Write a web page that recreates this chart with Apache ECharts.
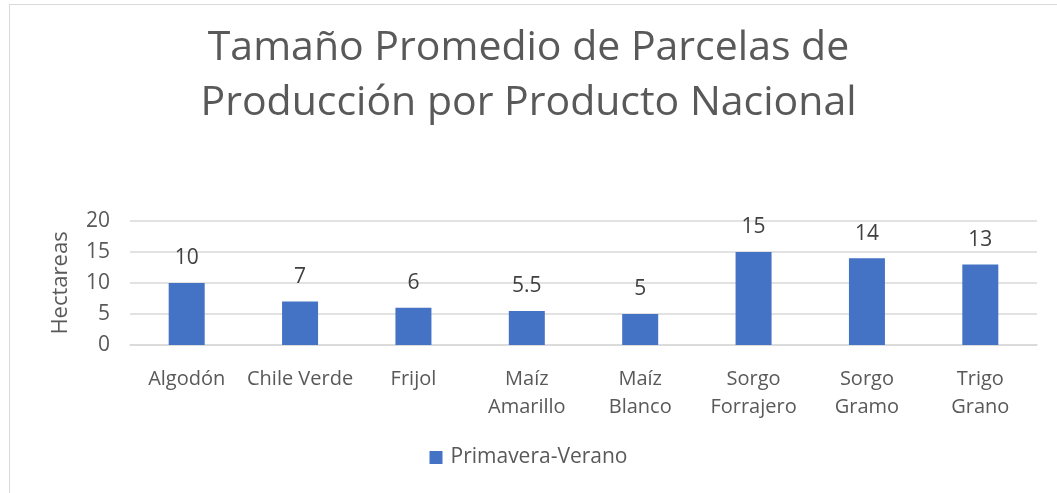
<!DOCTYPE html>
<html>
<head>
<meta charset="utf-8">
<script src="https://cdn.jsdelivr.net/npm/echarts@6/dist/echarts.min.js"></script>
<style>
    html, body { margin: 0; padding: 0; background: #fff; }
    .wrap-div { position: relative; width: 1057px; height: 493px; overflow: hidden; }
    .frame { position: absolute; left: 9px; top: 4px; width: 1100px; height: 600px; border: 1px solid #d9d9d9; box-sizing: border-box; }
    .bar-chart { position: absolute; left: 0; top: 0; width: 1057px; height: 493px; }
</style>
</head>
<body>
<div class="wrap-div">
    <div class="frame"></div>
    <div id="bar_chart" class="bar-chart"></div>
</div>
<script>
    // 数据
    const categories = ['Algodón', 'Chile Verde', 'Frijol', 'Maíz\nAmarillo', 'Maíz\nBlanco', 'Sorgo\nForrajero', 'Sorgo\nGramo', 'Trigo\nGrano'];
    const hectareas = [10, 7, 6, 5.5, 5, 15, 14, 13];
    const yTicks = [0, 5, 10, 15, 20];
    const seriesName = 'Primavera-Verano';

    const font = '"Open Sans", "Noto Sans", sans-serif';
    const bar_chart = echarts.init(document.getElementById('bar_chart'));
    bar_chart.setOption({
        animation: false,
        title: {
            text: 'Tamaño Promedio de Parcelas de\nProducción por Producto Nacional',
            left: 'center',
            top: 16,
            textStyle: {
                fontFamily: font,
                fontSize: 41,
                fontWeight: 'normal',
                color: '#595959',
                lineHeight: 55
            }
        },
        legend: {
            bottom: 20,
            left: 'center',
            itemWidth: 13,
            itemHeight: 13,
            icon: 'rect',
            itemGap: 10,
            textStyle: { fontFamily: font, fontSize: 21, color: '#595959', padding: [0, 0, 0, 3] },
            data: [seriesName]
        },
        grid: {
            left: 130,
            right: 20,
            top: 221,
            bottom: 148,
            containLabel: false
        },
        xAxis: {
            type: 'category',
            data: categories,
            axisLine: { lineStyle: { color: '#d9d9d9', width: 1.5 } },
            axisTick: { show: false },
            axisLabel: {
                interval: 0,
                fontFamily: font,
                fontSize: 20,
                color: '#595959',
                lineHeight: 28,
                margin: 20
            }
        },
        yAxis: {
            type: 'value',
            min: yTicks[0],
            max: yTicks[yTicks.length - 1],
            interval: 5,
            name: 'Hectareas',
            nameLocation: 'middle',
            nameGap: 58,
            nameTextStyle: { fontFamily: font, fontSize: 22, color: '#595959' },
            axisLine: { show: false },
            axisTick: { show: false },
            splitLine: { lineStyle: { color: '#d9d9d9', width: 1.5 } },
            axisLabel: {
                fontFamily: font,
                fontSize: 21,
                color: '#595959',
                margin: 20
            }
        },
        series: [
            {
                name: seriesName,
                type: 'bar',
                data: hectareas,
                barWidth: 36,
                itemStyle: { color: '#4472c4' },
                label: {
                    show: true,
                    position: 'top',
                    distance: 14,
                    fontFamily: font,
                    fontSize: 21,
                    color: '#404040'
                }
            }
        ]
    });
</script>
</body>
</html>
